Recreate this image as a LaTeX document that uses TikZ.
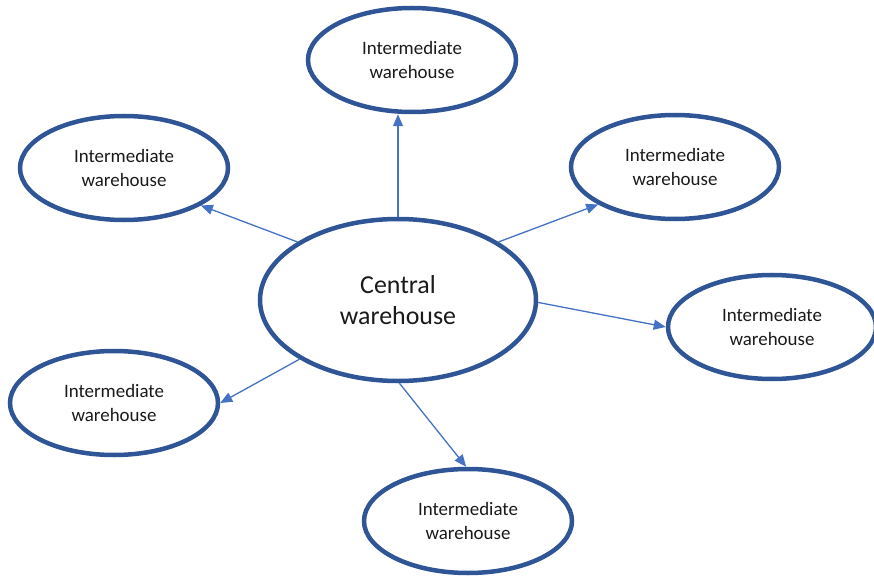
\documentclass[tikz,border=0pt]{standalone}
\usepackage{fontspec}
\setmainfont{Carlito}
\usetikzlibrary{arrows.meta,shapes.geometric}
\definecolor{ringblue}{HTML}{2F5597}
\definecolor{linkblue}{HTML}{4472C4}
\definecolor{txt}{HTML}{1A1A1A}
\begin{document}
\begin{tikzpicture}[x=1bp,y=-1bp,
  hub/.style={ellipse,draw=ringblue,line width=4.5bp,fill=white,inner sep=0pt,
    minimum width=276bp,minimum height=162bp,align=center,text=txt,
    font=\fontsize{26}{31}\selectfont},
  leaf/.style={ellipse,draw=ringblue,line width=4.5bp,fill=white,inner sep=0pt,
    minimum width=208bp,minimum height=104bp,align=center,text=txt,
    font=\fontsize{19}{23.5}\selectfont},
  link/.style={draw=linkblue,line width=1.3bp,-{Triangle[length=12bp,width=10bp]}}]
\useasboundingbox (0,0) rectangle (874,578);
\node[hub]  (c)  at (398,300) {Central\\warehouse};
\node[leaf] (t)  at (412,60)  {Intermediate\\warehouse};
\node[leaf] (ul) at (124,168) {Intermediate\\warehouse};
\node[leaf] (ur) at (675,167) {Intermediate\\warehouse};
\node[leaf] (r)  at (772,327) {Intermediate\\warehouse};
\node[leaf] (ll) at (114,403) {Intermediate\\warehouse};
\node[leaf] (b)  at (468,521) {Intermediate\\warehouse};
\draw[link] (c.90)    -- (c.90 |- t.south);
\draw[link] (c.150.4) -- (ul.334);
\draw[link] (c.30.4)  -- (ur.206);
\draw[link] (c.-1)    -- (r.180.5);
\draw[link] (c.211)   -- (ll.0);
\draw[link] (c.271)   -- (b.92);
\end{tikzpicture}
\end{document}
